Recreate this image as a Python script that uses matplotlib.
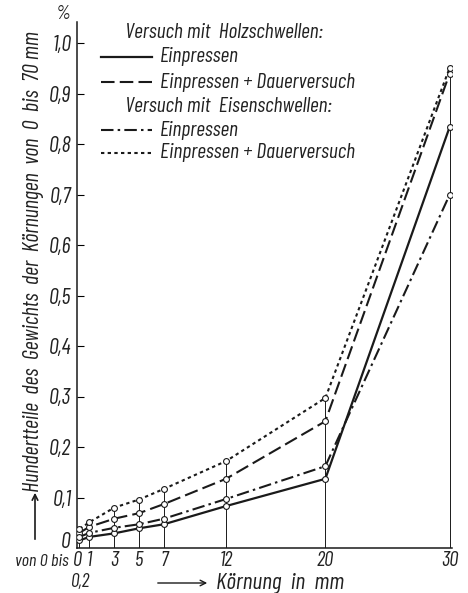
import matplotlib
matplotlib.use("Agg")
import matplotlib.pyplot as plt
from matplotlib.lines import Line2D
from matplotlib.patches import FancyArrowPatch

# Körnung (mm) und Anteile in %
koernung = [0.2, 1, 3, 5, 7, 12, 20, 30]
holz_einpressen = [0.015, 0.022, 0.029, 0.039, 0.047, 0.083, 0.137, 0.833]
holz_dauer = [0.030, 0.042, 0.058, 0.069, 0.087, 0.137, 0.251, 0.939]
eisen_einpressen = [0.022, 0.030, 0.040, 0.047, 0.058, 0.097, 0.162, 0.699]
eisen_dauer = [0.038, 0.051, 0.080, 0.096, 0.117, 0.172, 0.297, 0.950]

x_ticks = [0, 1, 3, 5, 7, 12, 20, 30]
x_labels = ["0", "1", "3", "5", "7", "12", "20", "30"]
y_ticks = [0.1, 0.2, 0.3, 0.4, 0.5, 0.6, 0.7, 0.8, 0.9, 1.0]
y_labels = ["0,1", "0,2", "0,3", "0,4", "0,5", "0,6", "0,7", "0,8", "0,9", "1,0"]

FONT = dict(family=["Barlow Condensed", "DejaVu Sans"], style="italic", color="#222222")
INK = "#1a1a1a"

styles = {
    "solid": dict(linestyle="-", lw=1.6),
    "dashed": dict(linestyle=(0, (6.5, 2.5)), lw=1.5),
    "dashdot": dict(linestyle=(0, (6, 2, 1.2, 2)), lw=1.5),
    "dotted": dict(linestyle=(0, (1.6, 1.6)), lw=1.5),
}

fig = plt.figure(figsize=(4.68, 5.93), dpi=100)
ax = fig.add_axes([77 / 468, 1 - 548 / 593, 375 / 468, 526 / 593])
ax.set_xlim(0, 30.2)
ax.set_ylim(0, 526 / 505)

# senkrechte Hilfslinien an den Messpunkten
series = [holz_einpressen, holz_dauer, eisen_einpressen, eisen_dauer]
for i, xv in enumerate(koernung):
    top = max(s[i] for s in series)
    ax.plot([xv, xv], [0, top], color=INK, lw=0.7, zorder=1)

for vals, key in zip(series, ["solid", "dashed", "dashdot", "dotted"]):
    ax.plot(koernung, vals, color=INK, **styles[key], zorder=2)
    ax.plot(koernung, vals, linestyle="none", marker="o", ms=4.2,
            mfc="white", mec=INK, mew=0.8, zorder=3)

for s in ["top", "right"]:
    ax.spines[s].set_visible(False)
for s in ["left", "bottom"]:
    ax.spines[s].set_linewidth(1.1)
    ax.spines[s].set_color(INK)

ax.set_yticks(y_ticks)
ax.set_yticklabels(y_labels, fontsize=16, **FONT)
ax.tick_params(axis="y", direction="in", length=5, width=0.8, pad=4)
ax.set_xticks(x_ticks)
ax.set_xticklabels(x_labels, fontsize=15, **FONT)
ax.tick_params(axis="x", length=0, pad=2)

fig.text(66 / 468, 1 - 543 / 593, "0", fontsize=16, ha="center", va="center", **FONT)
fig.text(63 / 468, 1 - 14 / 593, "%", fontsize=14, ha="center", va="center", **FONT)
fig.text(42 / 468, 1 - 562 / 593, "von 0 bis", fontsize=13, ha="center", va="center", **FONT)
fig.text(80 / 468, 1 - 582 / 593, "0,2", fontsize=14, ha="center", va="center", **FONT)
fig.text(216 / 468, 1 - 583 / 593, "Körnung  in  mm", fontsize=17, ha="left", va="center", **FONT)
fig.add_artist(FancyArrowPatch(
    (155 / 468, 1 - 583 / 593), (210 / 468, 1 - 583 / 593),
    transform=fig.transFigure, arrowstyle="->", mutation_scale=10, color=INK, lw=1.0))

fig.text(34 / 468, 1 - 262 / 593,
         "Hundertteile  des  Gewichts  der  Körnungen  von  0  bis  70 mm",
         fontsize=16, rotation=90, ha="center", va="center", **FONT)
fig.add_artist(FancyArrowPatch(
    (35 / 468, 1 - 542 / 593), (35 / 468, 1 - 490 / 593),
    transform=fig.transFigure, arrowstyle="->", mutation_scale=10, color=INK, lw=1.2))

# Legende
rows = [
    (33, None, "Versuch mit  Holzschwellen:"),
    (57, "solid", "Einpressen"),
    (82, "dashed", "Einpressen + Dauerversuch"),
    (107, None, "Versuch mit  Eisenschwellen:"),
    (130, "dashdot", "Einpressen"),
    (153, "dotted", "Einpressen + Dauerversuch"),
]
for y, key, txt in rows:
    yf = 1 - y / 593
    if key is None:
        fig.text(125 / 468, yf, txt, fontsize=15.5, ha="left", va="center", **FONT)
    else:
        fig.add_artist(Line2D([101 / 468, 152 / 468], [yf, yf],
                              transform=fig.transFigure, color=INK, **styles[key]))
        fig.text(160 / 468, yf, txt, fontsize=15.5, ha="left", va="center", **FONT)

fig.savefig("out.png", dpi=100)
